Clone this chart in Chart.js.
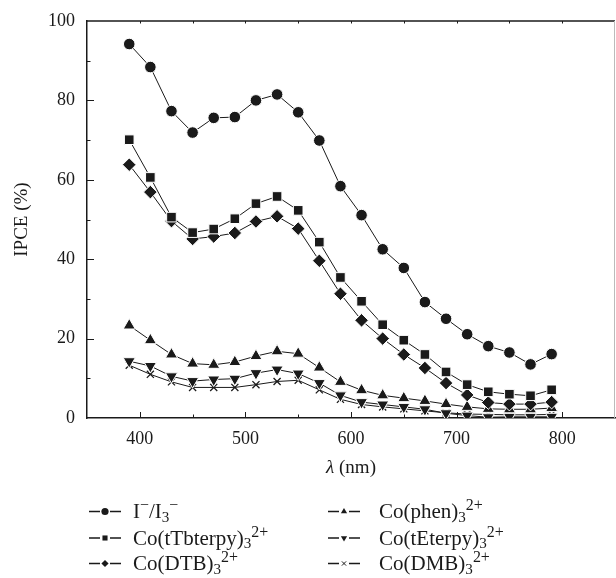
<!DOCTYPE html>
<html>
<head>
<meta charset="utf-8">
<script src="https://cdn.jsdelivr.net/npm/chart.js@4/dist/chart.umd.min.js"></script>
<style>
  html, body { margin: 0; padding: 0; background: #fff; overflow: hidden; }
  #wrap { width: 616px; height: 578px; position: relative; }
</style>
</head>
<body>
<div id="wrap"><canvas id="ipce"></canvas></div>
<script>
// wavelength (nm) and IPCE (%)
const wavelength = [390,410,430,450,470,490,510,530,550,570,590,610,630,650,670,690,710,730,750,770,790];
const ipceIodide  = [94.2,88.4,77.3,71.9,75.6,75.8,80.0,81.5,77.0,69.9,58.4,51.1,42.5,37.8,29.2,25.0,21.1,18.1,16.5,13.5,16.1];
const ipceTTbterpy = [70.1,60.6,50.6,46.7,47.6,50.2,54.0,55.8,52.3,44.3,35.4,29.4,23.5,19.6,16.0,11.6,8.4,6.6,6.0,5.6,7.1];
const ipceDTB     = [63.8,56.9,49.6,45.1,45.7,46.6,49.5,50.8,47.7,39.6,31.3,24.6,20.0,16.0,12.6,8.8,5.8,3.9,3.5,3.5,4.0];
const ipcePhen    = [23.3,19.6,16.0,13.7,13.4,14.1,15.6,16.8,16.2,12.7,9.1,7.0,5.7,5.0,4.3,3.5,2.8,2.3,2.2,2.2,2.5];
const ipceTEterpy = [14.3,13.1,10.5,9.3,9.7,9.9,11.3,12.2,11.2,8.8,5.7,4.0,3.4,2.8,2.2,1.2,0.6,0.2,0.3,0.3,0.3];
const ipceDMB     = [13.3,11.0,9.1,7.7,7.7,7.7,8.4,9.2,9.5,7.1,4.7,3.4,2.8,2.3,1.8,1.3,1.0,0.9,0.8,0.8,0.9];

const seriesLabels = ['I⁻/I₃⁻', 'Co(tTbterpy)₃²⁺', 'Co(DTB)₃²⁺', 'Co(phen)₃²⁺', 'Co(tEterpy)₃²⁺', 'Co(DMB)₃²⁺'];
const xTickLabels = [400, 500, 600, 700, 800];
const yTickLabels = [0, 20, 40, 60, 80, 100];

const INK = '#1a1a1a';
const SERIF = '"Liberation Serif", "Times New Roman", serif';

function pts(values){
    return values.map((v, i) => ({x: wavelength[i], y: v}));
}

function makeSet(label, values, style, radius, rotation){
    const isCross = style === 'crossRot';
    return {
        label: label,
        data: pts(values),
        borderColor: INK,
        borderWidth: 1,
        tension: 0,
        pointStyle: style,
        pointRadius: radius,
        pointRotation: rotation || 0,
        pointBackgroundColor: INK,
        pointBorderColor: isCross ? INK : '#fff',
        pointBorderWidth: isCross ? 1.3 : 1,
        pointHoverRadius: radius
    };
}

const datasets = [
    makeSet(seriesLabels[0], ipceIodide, 'circle', 5.8),
    makeSet(seriesLabels[1], ipceTTbterpy, 'rect', 6.8),
    makeSet(seriesLabels[2], ipceDTB, 'rectRot', 6.8),
    makeSet(seriesLabels[3], ipcePhen, 'triangle', 7),
    makeSet(seriesLabels[4], ipceTEterpy, 'triangle', 7, 180),
    makeSet(seriesLabels[5], ipceDMB, 'crossRot', 5)
];

// draws a label with unicode sub/superscripts as smaller shifted text
const SUBS = {'₀':'0','₁':'1','₂':'2','₃':'3','₄':'4','₅':'5','₆':'6','₇':'7','₈':'8','₉':'9'};
const SUPS = {'⁰':'0','¹':'1','²':'2','³':'3','⁴':'4','⁵':'5','⁶':'6','⁷':'7','⁸':'8','⁹':'9','⁺':'+','⁻':'−'};
function drawRich(ctx, text, x, y, size){
    let cx = x;
    for(const ch of text){
        if(SUBS[ch]){
            ctx.font = (size*0.72) + 'px ' + SERIF;
            ctx.fillText(SUBS[ch], cx, y + size*0.17);
            cx += ctx.measureText(SUBS[ch]).width;
        }else if(SUPS[ch]){
            ctx.font = (size*0.76) + 'px ' + SERIF;
            ctx.fillText(SUPS[ch], cx, y - size*0.38);
            cx += ctx.measureText(SUPS[ch]).width;
        }else{
            ctx.font = size + 'px ' + SERIF;
            ctx.fillText(ch, cx, y);
            cx += ctx.measureText(ch).width;
        }
    }
}

// scales pad themselves for their end labels; the frame here is fixed instead
function noPadding(s){
    s.paddingLeft = 0;
    s.paddingRight = 0;
    s.paddingTop = 0;
    s.paddingBottom = 0;
}

const framePlugin = {
    id: 'frame',
    afterDraw(chart){
        const ctx = chart.ctx;
        const a = chart.chartArea;
        const xs = chart.scales.x, ys = chart.scales.y;
        ctx.save();
        ctx.strokeStyle = INK;
        ctx.lineWidth = 1;
        // inward ticks on bottom and top, left
        xs.ticks.forEach(t => {
            const px = Math.round(xs.getPixelForValue(t.value)) + 0.5;
            const major = xTickLabels.includes(t.value);
            if(t.value <= xs.min || t.value >= xs.max) return;
            ctx.beginPath();
            ctx.moveTo(px, a.bottom);
            ctx.lineTo(px, a.bottom - (major ? 6 : 3.5));
            ctx.moveTo(px, a.top);
            ctx.lineTo(px, a.top + 2.5);
            ctx.stroke();
        });
        ys.ticks.forEach(t => {
            const py = Math.round(ys.getPixelForValue(t.value)) + 0.5;
            const major = yTickLabels.includes(t.value);
            if(t.value <= ys.min || t.value >= ys.max) return;
            ctx.beginPath();
            ctx.moveTo(a.left, py);
            ctx.lineTo(a.left + (major ? 7 : 3.5), py);
            ctx.stroke();
        });
        // top border
        ctx.lineWidth = 1.5;
        ctx.beginPath();
        ctx.moveTo(a.left, a.top);
        ctx.lineTo(a.right, a.top);
        ctx.stroke();
        // right border, faint
        ctx.strokeStyle = '#bbb';
        ctx.lineWidth = 1;
        ctx.beginPath();
        ctx.moveTo(a.right - 0.5, a.top);
        ctx.lineTo(a.right - 0.5, a.bottom);
        ctx.stroke();

        // x axis title with italic lambda
        ctx.fillStyle = INK;
        ctx.textBaseline = 'alphabetic';
        const lam = 'λ';
        ctx.font = '19px ' + SERIF;
        const rest = ' (nm)';
        const wRest = ctx.measureText(rest).width;
        ctx.font = 'italic 19px ' + SERIF;
        const wLam = ctx.measureText(lam).width;
        const cx = (a.left + a.right) / 2 - (wLam + wRest) / 2;
        ctx.fillText(lam, cx, 473);
        ctx.font = '19px ' + SERIF;
        ctx.fillText(rest, cx + wLam, 473);

        // legend, two columns of three
        const cols = [{line0: 89, line1: 121, text: 133}, {line0: 328, line1: 360, text: 379}];
        const rows = [511, 537.5, 563];
        chart.data.datasets.forEach((ds, i) => {
            const c = cols[Math.floor(i / 3)];
            const y = rows[i % 3];
            const mid = (c.line0 + c.line1) / 2;
            ctx.strokeStyle = INK;
            ctx.lineWidth = 1.3;
            ctx.beginPath();
            ctx.moveTo(c.line0, y + 0.5);
            ctx.lineTo(mid - 5, y + 0.5);
            ctx.moveTo(mid + 5, y + 0.5);
            ctx.lineTo(c.line1, y + 0.5);
            ctx.stroke();
            ctx.fillStyle = INK;
            ctx.lineWidth = 1;
            Chart.helpers.drawPoint(ctx, {
                pointStyle: ds.pointStyle,
                rotation: ds.pointRotation,
                radius: ds.pointStyle === 'crossRot' ? 3 : 3.6,
                borderWidth: ds.pointStyle === 'crossRot' ? 1 : 0
            }, mid, y + 0.5);
            ctx.fillStyle = INK;
            drawRich(ctx, ds.label, c.text, y + 7, 21);
        });
        ctx.restore();
    }
};

new Chart(document.getElementById('ipce'), {
    type: 'line',
    data: { datasets: datasets },
    options: {
        responsive: true,
        maintainAspectRatio: false,
        animation: false,
        layout: { autoPadding: false, padding: { left: 0, right: 1, top: 21, bottom: 100 } },
        plugins: { legend: { display: false }, tooltip: { enabled: false } },
        elements: { line: { fill: false } },
        scales: {
            x: {
                type: 'linear',
                min: 350,
                max: 850,
                afterFit: s => { s.height = 60; noPadding(s); },
                grid: { display: false, drawTicks: false },
                border: { display: true, color: INK, width: 1.5 },
                ticks: {
                    stepSize: 50,
                    autoSkip: false,
                    maxRotation: 0,
                    padding: 10,
                    color: INK,
                    font: { family: SERIF, size: 18 },
                    callback: v => xTickLabels.includes(v) ? String(v) : ''
                }
            },
            y: {
                min: 0,
                max: 100,
                afterFit: s => { s.width = 87; noPadding(s); },
                grid: { display: false, drawTicks: false },
                border: { display: true, color: INK, width: 1.5 },
                ticks: {
                    stepSize: 10,
                    autoSkip: false,
                    padding: 12,
                    color: INK,
                    font: { family: SERIF, size: 18 },
                    callback: v => yTickLabels.includes(v) ? String(v) : ''
                },
                title: {
                    display: true,
                    text: 'IPCE (%)',
                    color: INK,
                    font: { family: SERIF, size: 19 },
                    padding: { top: 11, bottom: 0 }
                }
            }
        }
    },
    plugins: [framePlugin]
});
</script>
</body>
</html>
